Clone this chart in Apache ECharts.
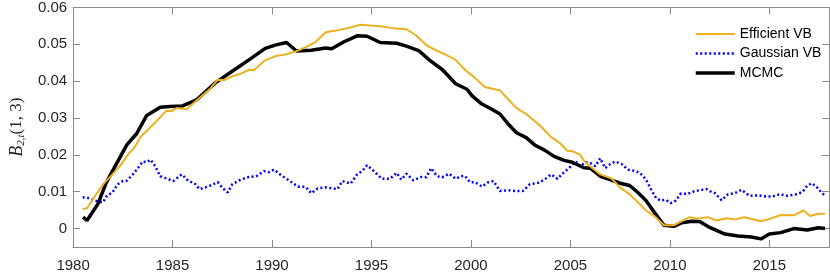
<!DOCTYPE html>
<html>
<head>
<meta charset="utf-8">
<script src="https://cdn.jsdelivr.net/npm/echarts@6/dist/echarts.min.js"></script>
<style>html,body{margin:0;padding:0;background:#fff;}#c{width:830px;height:273px;}</style>
</head>
<body>
<div id="c"></div>
<script>
// ---- data ----
const xTicks = [1980, 1985, 1990, 1995, 2000, 2005, 2010, 2015];
const yTicks = [0, 0.01, 0.02, 0.03, 0.04, 0.05, 0.06];
const seriesNames = ['Efficient VB', 'Gaussian VB', 'MCMC'];

const effYears = [1980.48,1980.7,1981.16,1981.57,1981.98,1982.4,1982.8,1983.06,1983.4,1984.05,1984.7,1984.95,1985.2,1985.7,1986.28,1986.86,1987.27,1987.6,1988.0,1988.42,1988.84,1989.09,1989.6,1990.16,1990.73,1991.3,1991.8,1992.2,1992.7,1993.29,1993.79,1994.45,1994.94,1995.44,1996.1,1996.76,1997.25,1997.75,1998.24,1998.65,1999.23,1999.7,2000.2,2000.7,2001.46,2001.87,2002.29,2002.78,2003.52,2004.02,2004.5,2004.85,2005.1,2005.5,2005.67,2006.08,2006.5,2007.07,2007.5,2007.98,2008.4,2008.8,2009.22,2009.7,2010.2,2010.6,2011.0,2011.4,2011.9,2012.35,2012.85,2013.26,2013.75,2014.58,2015.07,2015.57,2016.23,2016.72,2017.05,2017.47,2017.8];
const effVals = [0.0053,0.0055,0.0093,0.0124,0.0147,0.0173,0.0204,0.0218,0.0249,0.0284,0.0320,0.0319,0.0327,0.0324,0.0351,0.0378,0.0404,0.0403,0.0413,0.0420,0.0431,0.0430,0.0455,0.0468,0.0473,0.0483,0.0495,0.0507,0.0533,0.0538,0.0544,0.0553,0.0551,0.0549,0.0544,0.0541,0.0524,0.0498,0.0484,0.0474,0.0458,0.0431,0.0409,0.0384,0.0375,0.0351,0.0327,0.0311,0.0277,0.0249,0.0231,0.0211,0.0210,0.0200,0.0185,0.0165,0.0147,0.0136,0.0111,0.0093,0.0071,0.0049,0.0034,0.0009,0.0009,0.0020,0.0031,0.0027,0.0031,0.0022,0.0028,0.0025,0.0031,0.0020,0.0027,0.0037,0.0036,0.0049,0.0034,0.0040,0.0040];

const gaussYears = [1980.48,1980.7,1981.07,1981.5,1981.7,1981.98,1982.23,1982.5,1982.7,1983.0,1983.2,1983.5,1983.7,1983.9,1984.13,1984.38,1984.7,1985.04,1985.46,1985.8,1986.1,1986.36,1986.78,1987.27,1987.5,1987.77,1988.0,1988.42,1988.84,1989.2,1989.6,1989.85,1990.1,1990.4,1990.9,1991.3,1991.7,1991.97,1992.3,1992.7,1993.29,1993.54,1993.95,1994.28,1994.53,1994.78,1995.1,1995.52,1995.93,1996.26,1996.5,1996.76,1997.1,1997.5,1997.75,1998.0,1998.3,1998.55,1998.9,1999.23,1999.5,1999.7,1999.95,2000.2,2000.55,2000.88,2001.13,2001.46,2001.87,2002.2,2002.62,2002.95,2003.37,2003.7,2004.03,2004.35,2004.6,2004.93,2005.26,2005.5,2005.75,2006.0,2006.25,2006.5,2006.75,2007.0,2007.25,2007.58,2007.9,2008.2,2008.5,2008.8,2009.05,2009.3,2009.54,2009.8,2010.04,2010.3,2010.55,2010.9,2011.26,2011.6,2011.85,2012.1,2012.27,2012.6,2012.92,2013.26,2013.6,2014.0,2014.45,2014.83,2015.16,2015.5,2015.9,2016.34,2016.66,2016.9,2017.13,2017.38,2017.6,2017.8];
const gaussVals = [0.0085,0.0084,0.0076,0.0071,0.0089,0.0098,0.0120,0.0129,0.0130,0.0147,0.0160,0.0182,0.0180,0.0187,0.0169,0.0142,0.0136,0.0129,0.0147,0.0129,0.0123,0.0107,0.0114,0.0126,0.0111,0.0098,0.0120,0.0133,0.0140,0.0142,0.0156,0.0153,0.0160,0.0147,0.0129,0.0114,0.0113,0.0096,0.0109,0.0112,0.0107,0.0129,0.0122,0.0147,0.0156,0.0172,0.0157,0.0135,0.0135,0.0151,0.0133,0.0149,0.0131,0.0140,0.0139,0.0164,0.0142,0.0139,0.0149,0.0135,0.0142,0.0143,0.0126,0.0126,0.0114,0.0126,0.0129,0.0102,0.0104,0.0102,0.0102,0.0120,0.0124,0.0133,0.0147,0.0135,0.0149,0.0164,0.0182,0.0169,0.0180,0.0178,0.0169,0.0191,0.0164,0.0175,0.0182,0.0175,0.0160,0.0157,0.0151,0.0133,0.0107,0.0083,0.0076,0.0078,0.0069,0.0076,0.0095,0.0094,0.0102,0.0105,0.0107,0.0099,0.0096,0.0077,0.0093,0.0096,0.0105,0.0089,0.0090,0.0087,0.0087,0.0093,0.0089,0.0093,0.0099,0.0116,0.0123,0.0113,0.0099,0.0089];

const mcmcYears = [1980.5,1980.7,1981.25,1981.66,1982.15,1982.7,1983.2,1983.7,1984.38,1984.88,1985.5,1986.2,1987.16,1988.0,1988.84,1989.66,1990.16,1990.73,1991.23,1991.97,1992.7,1993.0,1993.62,1994.28,1994.78,1995.44,1996.26,1996.76,1997.4,1997.9,1998.57,1999.23,1999.8,2000.06,2000.55,2001.05,2001.46,2001.87,2002.29,2002.78,2003.2,2003.7,2004.18,2004.68,2005.1,2005.67,2006.0,2006.5,2007.0,2007.5,2007.98,2008.39,2008.8,2009.22,2009.7,2010.2,2010.6,2011.1,2011.5,2012.0,2012.77,2013.43,2014.1,2014.58,2015.0,2015.57,2016.23,2016.9,2017.47,2017.8];
const mcmcVals = [0.0031,0.0022,0.0067,0.0124,0.0173,0.0227,0.0258,0.0307,0.0329,0.0331,0.0333,0.0349,0.0396,0.0427,0.0458,0.0489,0.0498,0.0505,0.0482,0.0484,0.0490,0.0488,0.0507,0.0523,0.0522,0.0505,0.0503,0.0495,0.0482,0.0458,0.0431,0.0393,0.0378,0.0360,0.0338,0.0324,0.0311,0.0284,0.0260,0.0247,0.0227,0.0213,0.0196,0.0185,0.0180,0.0165,0.0164,0.0142,0.0133,0.0123,0.0117,0.0098,0.0076,0.0044,0.0009,0.0006,0.0016,0.0020,0.0019,0.0003,-0.0015,-0.0020,-0.0023,-0.0028,-0.0015,-0.0011,0.0000,-0.0004,0.0002,0.0000];

const pairs = (xs, ys) => xs.map((x, i) => [x, ys[i]]);

const frameColor = '#8a8a8a';
const labelColor = '#262626';
const fontFam = 'Liberation Sans, Arial, sans-serif';

function xAx(pos, showLabels) {
  return {
    type: 'value', position: pos, min: 1980, max: 2018,
    axisLine: { show: true, onZero: false, lineStyle: { color: frameColor, width: 1 } },
    axisTick: { show: true, inside: true, length: 7, customValues: xTicks, lineStyle: { color: frameColor, width: 1 } },
    axisLabel: { show: showLabels, customValues: xTicks, margin: 11, color: labelColor, fontSize: 15, fontFamily: fontFam,
                 formatter: v => String(Math.round(v)) },
    splitLine: { show: false }
  };
}
function yAx(pos, showLabels, extra) {
  return Object.assign({
    type: 'value', position: pos, min: -0.005, max: 0.06,
    axisLine: { show: true, onZero: false, lineStyle: { color: frameColor, width: 1 } },
    axisTick: { show: true, inside: true, length: 7, customValues: yTicks, lineStyle: { color: frameColor, width: 1 } },
    axisLabel: { show: showLabels, customValues: yTicks, margin: 6, color: labelColor, fontSize: 15, fontFamily: fontFam,
                 formatter: v => String(Math.round(v * 100) / 100) },
    splitLine: { show: false }
  }, extra || {});
}

const chart = echarts.init(document.getElementById('c'), null, { renderer: 'canvas' });
chart.setOption({
  animation: false,
  backgroundColor: '#fff',
  grid: { left: 61, right: 1, top: 5, bottom: 24, containLabel: false },
  xAxis: [xAx('bottom', true), xAx('top', false)],
  yAxis: [
    yAx('left', true, {
      name: '{b|B}{s|2,t}{p|(1, 3)}',
      nameLocation: 'middle', nameRotate: 90, nameGap: 43,
      nameTextStyle: {
        rich: {
          b: { fontFamily: 'Liberation Serif, serif', fontStyle: 'italic', fontSize: 18, color: labelColor, lineHeight: 20 },
          s: { fontFamily: 'Liberation Serif, serif', fontStyle: 'italic', fontSize: 11, color: labelColor, lineHeight: 11, verticalAlign: 'bottom' },
          p: { fontFamily: 'Liberation Serif, serif', fontSize: 17, color: labelColor, lineHeight: 20 }
        }
      }
    }),
    yAx('right', false)
  ],
  legend: {
    data: [
      { name: seriesNames[0], lineStyle: { width: 2 } },
      { name: seriesNames[1], lineStyle: { width: 2.5 } },
      { name: seriesNames[2], lineStyle: { width: 3.5 } }
    ],
    orient: 'vertical', left: 689, top: 22,
    itemWidth: 39, itemHeight: 14, itemGap: 5.5,
    itemStyle: { opacity: 0 },
    textStyle: { fontSize: 14, fontFamily: fontFam, color: '#000', lineHeight: 14 },
    backgroundColor: 'transparent'
  },
  series: [
    { name: 'Efficient VB', type: 'line', data: pairs(effYears, effVals), symbol: 'none', z: 4,
      lineStyle: { color: '#EDB120', width: 2 }, itemStyle: { color: '#EDB120' } },
    { name: 'Gaussian VB', type: 'line', data: pairs(gaussYears, gaussVals), symbol: 'none', z: 2,
      lineStyle: { color: '#0000FF', width: 2.5, type: [2, 2.5] }, itemStyle: { color: '#0000FF' } },
    { name: 'MCMC', type: 'line', data: pairs(mcmcYears, mcmcVals), symbol: 'none', z: 3,
      lineStyle: { color: '#000000', width: 3.5 }, itemStyle: { color: '#000000' } }
  ]
});
</script>
</body>
</html>
